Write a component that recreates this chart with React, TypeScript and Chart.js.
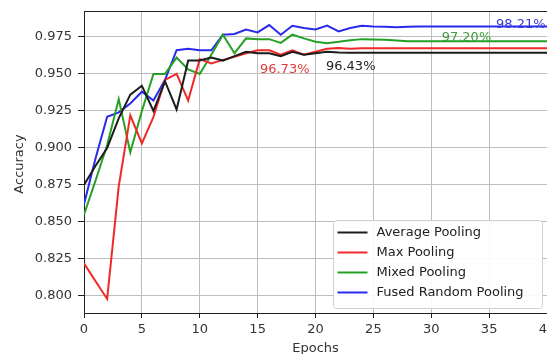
import React, { useEffect, useRef } from 'react';
import { Chart, registerables } from 'chart.js';

Chart.register(...registerables);

const epochs = [0, 1, 2, 3, 4, 5, 6, 7, 8, 9, 10, 11, 12, 13, 14, 15, 16, 17, 18, 19, 20, 21, 22, 23, 24, 25, 26, 27, 28, 29, 30, 31, 32, 33, 34, 35, 36, 37, 38, 39, 40];

const averagePooling = [0.875, 0.888, 0.900, 0.920, 0.936, 0.942, 0.925, 0.945, 0.926, 0.959, 0.959, 0.961, 0.959, 0.962, 0.965, 0.964, 0.964, 0.962, 0.965, 0.963, 0.964, 0.965, 0.9645, 0.9643, 0.9643, 0.9643, 0.9643, 0.9643, 0.9643, 0.9643, 0.9643, 0.9643, 0.9643, 0.9643, 0.9643, 0.9643, 0.9643, 0.9643, 0.9643, 0.9643, 0.9643];
const maxPooling = [0.822, 0.810, 0.798, 0.874, 0.922, 0.903, 0.921, 0.946, 0.950, 0.932, 0.960, 0.957, 0.9595, 0.9615, 0.964, 0.966, 0.966, 0.963, 0.966, 0.963, 0.965, 0.967, 0.9675, 0.967, 0.9673, 0.9673, 0.9673, 0.9673, 0.9673, 0.9673, 0.9673, 0.9673, 0.9673, 0.9673, 0.9673, 0.9673, 0.9673, 0.9673, 0.9673, 0.9673, 0.9673];
const mixedPooling = [0.855, 0.878, 0.902, 0.933, 0.897, 0.925, 0.950, 0.950, 0.961, 0.953, 0.950, 0.963, 0.9765, 0.964, 0.974, 0.9735, 0.9735, 0.971, 0.9765, 0.974, 0.9717, 0.9708, 0.9717, 0.9728, 0.9735, 0.9733, 0.973, 0.9725, 0.972, 0.972, 0.972, 0.972, 0.972, 0.972, 0.972, 0.972, 0.972, 0.972, 0.972, 0.972, 0.972];
const fusedRandomPooling = [0.862, 0.893, 0.921, 0.924, 0.930, 0.938, 0.932, 0.946, 0.966, 0.967, 0.966, 0.966, 0.9765, 0.977, 0.980, 0.978, 0.983, 0.9765, 0.9825, 0.981, 0.980, 0.9827, 0.9787, 0.981, 0.9825, 0.982, 0.9818, 0.9815, 0.9818, 0.982, 0.9821, 0.9821, 0.9821, 0.9821, 0.9821, 0.9821, 0.9821, 0.9821, 0.9821, 0.9821, 0.9821];

const seriesLabels = ['Average Pooling', 'Max Pooling', 'Mixed Pooling', 'Fused Random Pooling'];
const seriesColors = ['#1c1c1c', '#f02828', '#25a025', '#2a2aee'];

const yTickValues = [0.8, 0.825, 0.85, 0.875, 0.9, 0.925, 0.95, 0.975];
const xTickValues = [0, 5, 10, 15, 20, 25, 30, 35, 40];

const annotationTexts = ['96.73%', '96.43%', '97.20%', '98.21%'];
const annotationEpochs = [15.2, 20.9, 30.9, 35.6];
const annotationValues = [0.9507, 0.9528, 0.9724, 0.981];
const annotationColors = ['#e03a3a', '#222222', '#3f9e3f', '#3a3ad6'];

const FONT = '"DejaVu Sans", sans-serif';

const overlayPlugin = {
  id: 'overlay',
  afterDatasetsDraw(chart: any) {
    const { ctx, chartArea: a, scales } = chart;
    ctx.save();
    // top spine
    ctx.strokeStyle = '#222';
    ctx.lineWidth = 1;
    ctx.beginPath();
    ctx.moveTo(a.left, a.top + 0.5);
    ctx.lineTo(a.right, a.top + 0.5);
    ctx.stroke();

    // annotations
    ctx.font = `13px ${FONT}`;
    ctx.textAlign = 'left';
    ctx.textBaseline = 'alphabetic';
    annotationTexts.forEach((t, i) => {
      ctx.fillStyle = annotationColors[i];
      ctx.fillText(t, scales.x.getPixelForValue(annotationEpochs[i]), scales.y.getPixelForValue(annotationValues[i]));
    });

    // legend
    const bw = 209, bh = 88;
    const bx = a.right - 5 - bw + 0.5;
    const by = a.bottom - 5 - bh + 0.5;
    ctx.fillStyle = 'rgba(255,255,255,0.9)';
    ctx.strokeStyle = '#d0d0d0';
    ctx.beginPath();
    (ctx as any).roundRect(bx, by, bw, bh, 3);
    ctx.fill();
    ctx.stroke();
    ctx.textBaseline = 'middle';
    chart.data.datasets.forEach((ds: any, i: number) => {
      const yy = by + 12 + i * 20;
      ctx.strokeStyle = ds.borderColor;
      ctx.lineWidth = 2;
      ctx.beginPath();
      ctx.moveTo(bx + 4, yy);
      ctx.lineTo(bx + 34, yy);
      ctx.stroke();
      ctx.fillStyle = '#222';
      ctx.fillText(ds.label, bx + 43, yy);
    });

    // axis titles
    ctx.fillStyle = '#333';
    ctx.textAlign = 'center';
    ctx.textBaseline = 'top';
    ctx.fillText('Epochs', (a.left + a.right) / 2, a.bottom + 29);
    ctx.translate(20, (a.top + a.bottom) / 2 + 2);
    ctx.rotate(-Math.PI / 2);
    ctx.textBaseline = 'middle';
    ctx.fillText('Accuracy', 0, 0);
    ctx.restore();
  },
};

export default function App() {
  const ref = useRef<HTMLCanvasElement>(null);
  useEffect(() => {
    document.body.style.margin = '0';
    const seriesData = [averagePooling, maxPooling, mixedPooling, fusedRandomPooling];
    const chart = new Chart(ref.current!, {
      type: 'line',
      data: {
        datasets: seriesData.map((arr, i) => ({
          label: seriesLabels[i],
          data: arr.map((v, j) => ({ x: epochs[j], y: v })),
          borderColor: seriesColors[i],
          backgroundColor: seriesColors[i],
          borderWidth: 2,
          pointRadius: 0,
          tension: 0,
        })),
      },
      options: {
        animation: false,
        responsive: false,
        layout: { padding: { top: 11, right: -1, left: 0, bottom: 0 } },
        plugins: { legend: { display: false }, tooltip: { enabled: false } },
        scales: {
          x: {
            type: 'linear',
            min: 0,
            max: 40,
            afterBuildTicks: (s: any) => { s.ticks = xTickValues.map((v) => ({ value: v })); },
            afterFit: (s: any) => { s.height = 41; s.paddingLeft = 0; s.paddingRight = 0; },
            ticks: { color: '#333', font: { family: FONT, size: 13 }, padding: 4, maxRotation: 0, callback: (v: any) => String(v) },
            grid: { color: '#bdbdbd', lineWidth: 1, tickLength: 5, tickColor: '#222' },
            border: { color: '#222', width: 1 },
          },
          y: {
            type: 'linear',
            min: 0.7885,
            max: 0.9925,
            afterBuildTicks: (s: any) => { s.ticks = yTickValues.map((v) => ({ value: v })); },
            afterFit: (s: any) => { s.width = 84; s.paddingTop = 0; s.paddingBottom = 0; },
            ticks: { color: '#333', font: { family: FONT, size: 13 }, padding: 6, callback: (v: any) => Number(v).toFixed(3) },
            grid: { color: '#bdbdbd', lineWidth: 1, tickLength: 6, tickColor: '#222' },
            border: { color: '#222', width: 1 },
          },
        },
      },
      plugins: [overlayPlugin],
    });
    return () => chart.destroy();
  }, []);
  return (
    <div style={{ width: 547, height: 354 }}>
      <canvas ref={ref} width={547} height={354} />
    </div>
  );
}
